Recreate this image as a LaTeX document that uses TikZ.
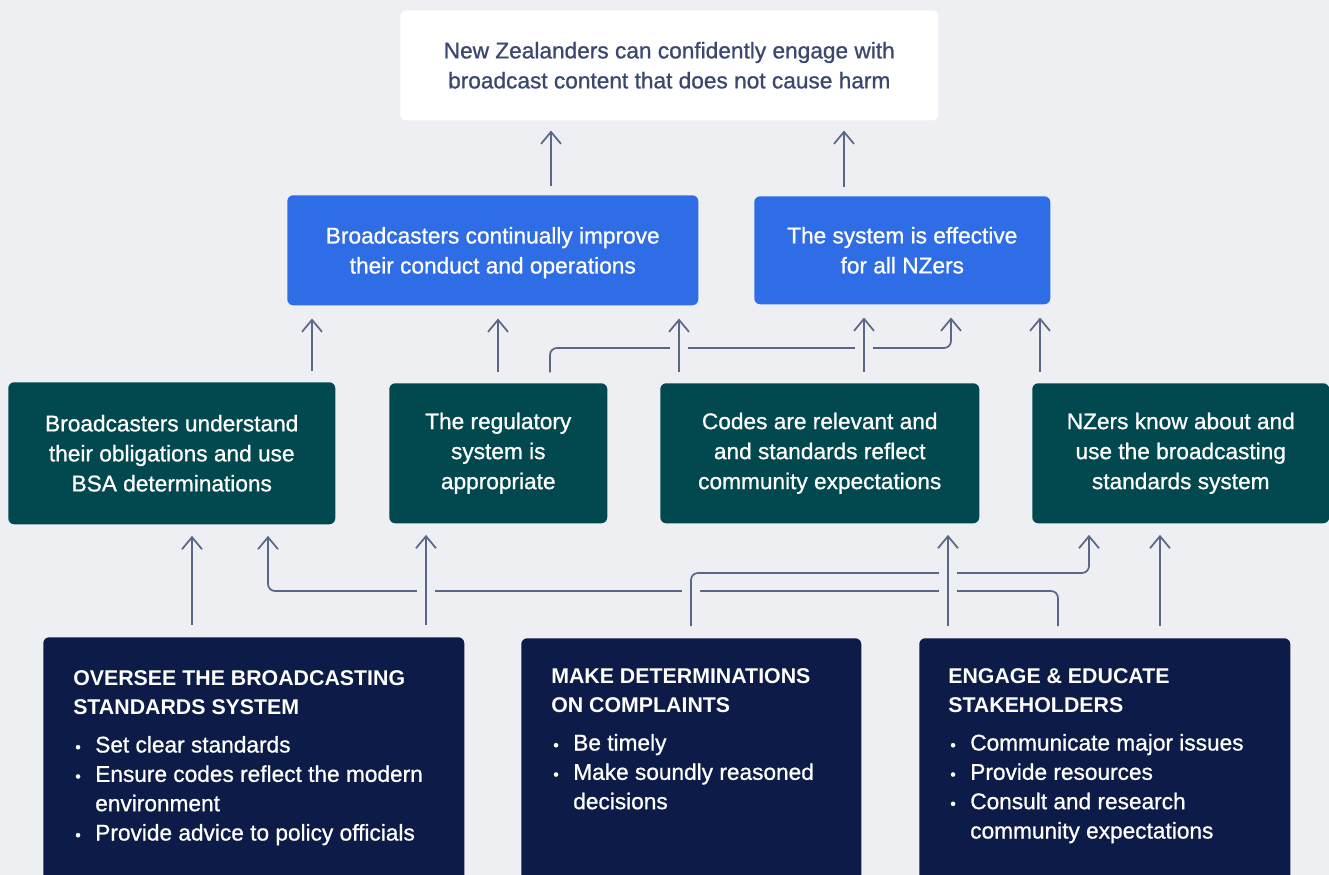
\documentclass[tikz,border=0pt]{standalone}
\usepackage{fontspec}
\setmainfont{Liberation Sans}
% medium weight: the regular cut, slightly thickened
\newfontfamily\medfamily{Liberation Sans}[BoldFont={Liberation Sans}, BoldFeatures={FakeBold=0.9}]
\newcommand{\medfont}{\medfamily\bfseries}
\usetikzlibrary{arrows.meta}

\definecolor{pagebg}{HTML}{EEEFF3}
\definecolor{outcometext}{HTML}{3B4770}
\definecolor{goalblue}{HTML}{2F6DE6}
\definecolor{resultteal}{HTML}{02484F}
\definecolor{tasknavy}{HTML}{0C1B47}
\definecolor{linkgrey}{HTML}{5A6787}

\tikzset{
  box/.style={anchor=north west, rounded corners=4.5pt, inner sep=0pt,
    align=center, text=white, font=\medfont\fontsize{17}{22.5}\selectfont},
  outcome/.style={box, fill=white, text=outcometext},
  goal/.style={box, fill=goalblue},
  result/.style={box, fill=resultteal},
  task/.style={anchor=north west, rounded corners=4.5pt, inner sep=0pt, fill=tasknavy},
  tasktext/.style={anchor=north west, inner sep=0pt, align=left, text=white,
    font=\medfont\fontsize{17}{22}\selectfont},
  link/.style={draw=linkgrey, line width=1.3pt, rounded corners=5.25pt,
    -{Straight Barb[length=9pt,width=15pt,line width=1.3pt]}},
  gap/.style={preaction={draw=pagebg, line width=13.5pt, arrows=-}}
}

\newcommand{\head}[1]{{\normalfont\fontsize{16}{22}\selectfont\bfseries #1}}
\newcommand{\bul}{\makebox[16.5pt][l]{\hspace*{1.5pt}{\fontsize{12}{12}\selectfont •}}}
\newcommand{\cont}{\hspace*{16.5pt}}

\begin{document}
\begin{tikzpicture}[x=0.75pt, y=-0.75pt]
  \fill[pagebg] (0,0) rectangle (1329,875);
  \useasboundingbox (0,0) rectangle (1329,875);

  % outcome
  \node[outcome, minimum width=403.5pt, minimum height=82.5pt] (outcome) at (400,10)
    {New Zealanders can confidently engage with\\broadcast content that does not cause harm};

  % goals
  \node[goal, minimum width=308.25pt, minimum height=82.5pt, text depth=0pt] (goalA) at (287,195)
    {Broadcasters continually improve\\their conduct and operations};
  \node[goal, minimum width=222pt, minimum height=81pt] (goalB) at (754,196)
    {The system is effective\\for all NZers};

  % results
  \node[result, minimum width=245.25pt, minimum height=106.5pt] (resA) at (8,382)
    {Broadcasters understand\\their obligations and use\\BSA determinations};
  \node[result, minimum width=163.5pt, minimum height=105pt] (resB) at (389,383)
    {The regulatory\\system is\\appropriate};
  \node[result, minimum width=239.25pt, minimum height=105pt] (resC) at (660,383)
    {Codes are relevant and\\and standards reflect\\community expectations};
  \node[result, minimum width=222.75pt, minimum height=105pt] (resD) at (1032,383)
    {NZers know about and\\use the broadcasting\\standards system};

  % functions
  \node[task, minimum width=315.75pt, minimum height=195pt] (taskA) at (43,637) {};
  \node[task, minimum width=255pt, minimum height=195pt] (taskB) at (521,638) {};
  \node[task, minimum width=278.25pt, minimum height=195pt] (taskC) at (919,638) {};

  \node[tasktext] (taskAtext) at (73,670)
    {\head{OVERSEE THE BROADCASTING}\\\head{STANDARDS SYSTEM}\\[6.5pt]
     \bul Set clear standards\\
     \bul Ensure codes reflect the modern\\
     \cont environment\\
     \bul Provide advice to policy officials};
  \node[tasktext] (taskBtext) at (551,668)
    {\head{MAKE DETERMINATIONS}\\\head{ON COMPLAINTS}\\[6.5pt]
     \bul Be timely\\
     \bul Make soundly reasoned\\
     \cont decisions};
  \node[tasktext] (taskCtext) at (948,668)
    {\head{ENGAGE \& EDUCATE}\\\head{STAKEHOLDERS}\\[6.5pt]
     \bul Communicate major issues\\
     \bul Provide resources\\
     \bul Consult and research\\
     \cont community expectations};

  % goals to outcome
  \begin{scope}[shorten <=6.75pt, shorten >=7.5pt]
    \draw[link] (goalA.north -| 551,0) -- (outcome.south -| 551,0);
    \draw[link] (goalB.north -| 844,0) -- (outcome.south -| 844,0);
  \end{scope}

  % results to goals
  \begin{scope}[shorten <=8pt, shorten >=9.75pt]
    \draw[link] (resB.north -| 550,0) |- (951,348) -- (goalB.south -| 951,0);
    \draw[link, gap] (resA.north -| 312,0) -- (goalA.south -| 312,0);
    \draw[link, gap] (resB.north -| 498,0) -- (goalA.south -| 498,0);
    \draw[link, gap] (resC.north -| 679,0) -- (goalA.south -| 679,0);
    \draw[link, gap] (resC.north -| 864,0) -- (goalB.south -| 864,0);
    \draw[link, gap] (resD.north -| 1040,0) -- (goalB.south -| 1040,0);
  \end{scope}

  % functions to results
  \begin{scope}[shorten <=9pt, shorten >=8.5pt]
    \draw[link] (taskC.north -| 1058,0) |- (268,591) -- (resA.south -| 268,0);
    \draw[link, gap] (taskB.north -| 691,0) |- (1089,573) -- (resD.south -| 1089,0);
    \draw[link, gap] (taskA.north -| 192,0) -- (resA.south -| 192,0);
    \draw[link, gap] (taskA.north -| 426,0) -- (resB.south -| 426,0);
    \draw[link, gap] (taskC.north -| 948,0) -- (resC.south -| 948,0);
    \draw[link, gap] (taskC.north -| 1160,0) -- (resD.south -| 1160,0);
  \end{scope}
\end{tikzpicture}
\end{document}
